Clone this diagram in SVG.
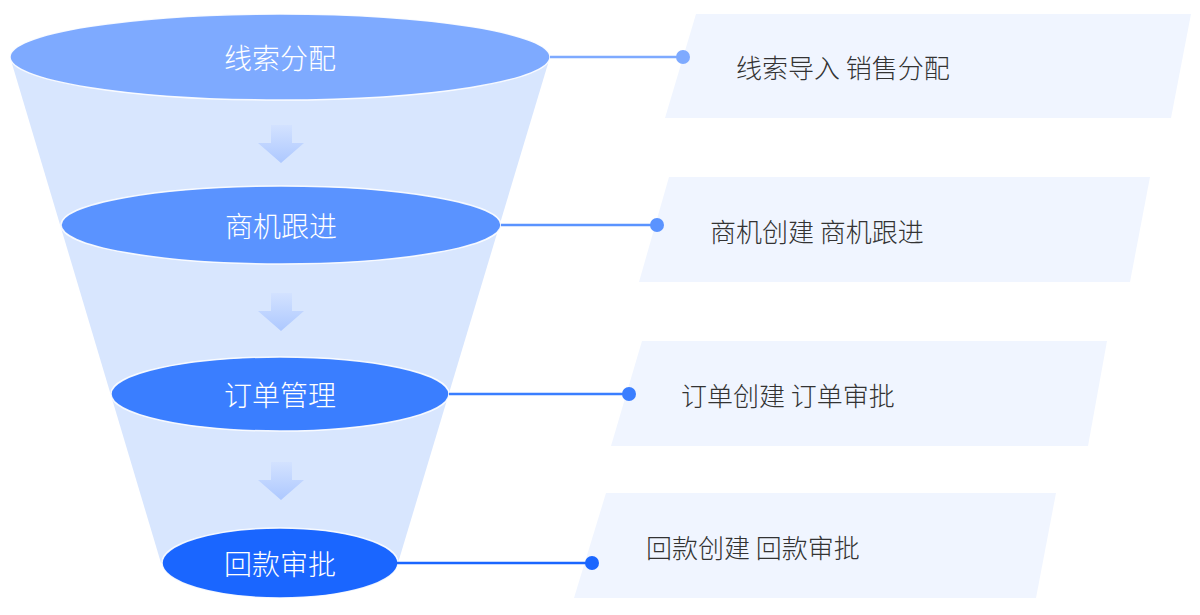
<svg xmlns="http://www.w3.org/2000/svg" width="1200" height="615" viewBox="0 0 1200 615">
  <defs>
    <linearGradient id="arrowGrad" x1="0" y1="0" x2="0" y2="1">
      <stop offset="0" stop-color="#d3e2ff"/>
      <stop offset="1" stop-color="#adc8ff"/>
    </linearGradient>
    <style>
      .funnel { fill: #d8e6fe; }
      .ell { stroke: #ffffff; stroke-width: 1.5; stroke-opacity: 0.9; }
      .lbl { font-family: "Noto Sans CJK SC", "Noto Sans", sans-serif; font-size: 28px; font-weight: 300; fill: #ffffff; text-anchor: middle; dominant-baseline: central; }
      .card { fill: #f0f5ff; }
      .ctext { font-family: "Noto Sans CJK SC", "Noto Sans", sans-serif; font-size: 26px; font-weight: 300; fill: #333333; dominant-baseline: central; }
      .arrow { fill: url(#arrowGrad); }
    </style>
  </defs>
  <rect width="1200" height="615" fill="#ffffff"/>

  <g id="funnel">
    <polygon class="funnel" points="10,57 550,57 398,563 161,563"/>
    <g id="arrows">
      <path class="arrow" d="M271,125 H292 V143 H304 L281,163 L258,143 H271 Z"/>
      <path class="arrow" d="M271,293 H292 V311 H304 L281,331 L258,311 H271 Z"/>
      <path class="arrow" d="M271,462 H292 V480 H304 L281,500 L258,480 H271 Z"/>
    </g>
  </g>

  <g id="stage1">
    <ellipse class="ell" cx="280" cy="57" rx="270" ry="43" fill="#7eaaff"/>
    <text class="lbl" x="280" y="57">线索分配</text>
  </g>
  <g id="stage2">
    <ellipse class="ell" cx="281" cy="225" rx="220" ry="39" fill="#5a93ff"/>
    <text class="lbl" x="281" y="225">商机跟进</text>
  </g>
  <g id="stage3">
    <ellipse class="ell" cx="280" cy="394" rx="169" ry="37" fill="#3a7eff"/>
    <text class="lbl" x="280" y="394">订单管理</text>
  </g>
  <g id="stage4">
    <ellipse class="ell" cx="280" cy="563" rx="118" ry="35" fill="#1a66ff"/>
    <text class="lbl" x="280" y="563">回款审批</text>
  </g>

  <g id="card1">
    <polygon class="card" points="696,14 1191,14 1171,118 665,118"/>
    <text class="ctext" x="736" y="66">线索导入 销售分配</text>
  </g>
  <g id="card2">
    <polygon class="card" points="669,177 1150,177 1130,282 639,282"/>
    <text class="ctext" x="710" y="230">商机创建 商机跟进</text>
  </g>
  <g id="card3">
    <polygon class="card" points="642,341 1107,341 1088,446 611,446"/>
    <text class="ctext" x="681" y="394">订单创建 订单审批</text>
  </g>
  <g id="card4">
    <polygon class="card" points="606,493 1056,493 1036,598 574,598"/>
    <text class="ctext" x="646" y="546">回款创建 回款审批</text>
  </g>

  <g id="connectors">
    <line x1="550" y1="57" x2="683" y2="57" stroke="#7eaaff" stroke-width="2.5"/>
    <circle cx="683" cy="57" r="7" fill="#7eaaff"/>
    <line x1="501" y1="225" x2="657" y2="225" stroke="#5a93ff" stroke-width="2.5"/>
    <circle cx="657" cy="225" r="7" fill="#5a93ff"/>
    <line x1="449" y1="394" x2="629" y2="394" stroke="#3a7eff" stroke-width="2.5"/>
    <circle cx="629" cy="394" r="7" fill="#3a7eff"/>
    <line x1="397" y1="563" x2="592" y2="563" stroke="#1a66ff" stroke-width="2.5"/>
    <circle cx="592" cy="563" r="7" fill="#1a66ff"/>
  </g>
</svg>
